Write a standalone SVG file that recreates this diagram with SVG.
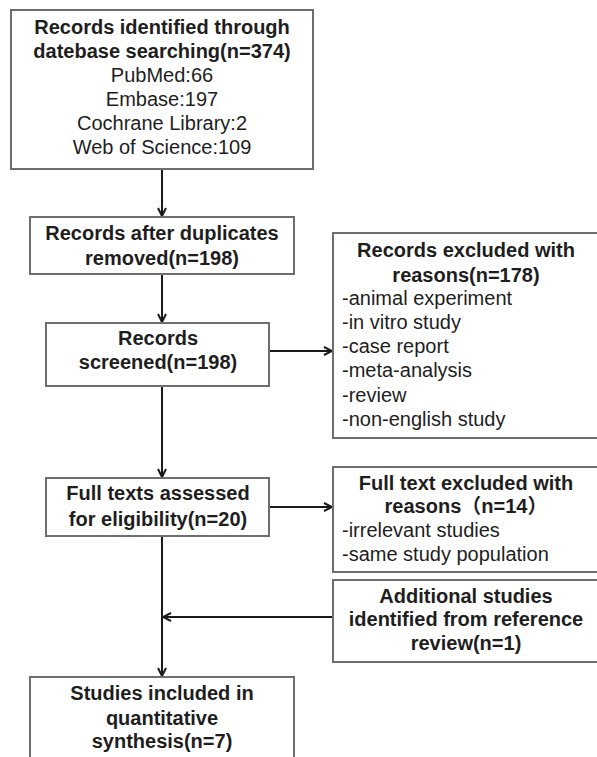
<svg xmlns="http://www.w3.org/2000/svg" width="597" height="757" viewBox="0 0 597 757">
<style>
text{font-family:"Liberation Sans","Noto Sans CJK SC",Arial,sans-serif;font-size:20px;fill:#1e1e1e}
.b{font-weight:bold}
.c{text-anchor:middle}
.box{fill:#fff;stroke:#6e6e6e;stroke-width:2}
.ln{fill:none;stroke:#1a1a1a;stroke-width:2}
</style>
<defs>
<marker id="ah" viewBox="0 0 10 10" refX="9" refY="5" markerWidth="10" markerHeight="10" markerUnits="userSpaceOnUse" orient="auto">
<path d="M1,1 L9,5 L1,9" fill="none" stroke="#1a1a1a" stroke-width="2"/>
</marker>
</defs>
<g id="connectors">
<line class="ln" x1="162" y1="169" x2="162" y2="216" marker-end="url(#ah)"/>
<line class="ln" x1="162" y1="274" x2="162" y2="322" marker-end="url(#ah)"/>
<line class="ln" x1="162" y1="386" x2="162" y2="477" marker-end="url(#ah)"/>
<line class="ln" x1="269" y1="351" x2="332" y2="351" marker-end="url(#ah)"/>
<line class="ln" x1="269" y1="507" x2="332" y2="507" marker-end="url(#ah)"/>
<line class="ln" x1="162" y1="536" x2="162" y2="676" marker-end="url(#ah)"/>
<line class="ln" x1="333" y1="617" x2="163" y2="617" marker-end="url(#ah)"/>
</g>
<g id="identified">
<rect class="box" x="11" y="10" width="302" height="159"/>
<text class="b c" x="162" y="34">Records identified through</text>
<text class="b c" x="162" y="58">datebase searching(n=374)</text>
<text class="c" x="162" y="82">PubMed:66</text>
<text class="c" x="162" y="106">Embase:197</text>
<text class="c" x="162" y="130">Cochrane Library:2</text>
<text class="c" x="162" y="154">Web of Science:109</text>
</g>
<g id="duplicates">
<rect class="box" x="30" y="217" width="264" height="57"/>
<text class="b c" x="162" y="240">Records after duplicates</text>
<text class="b c" x="162" y="265">removed(n=198)</text>
</g>
<g id="screened">
<rect class="box" x="46" y="323" width="223" height="63"/>
<text class="b c" x="158" y="345">Records</text>
<text class="b c" x="158" y="369">screened(n=198)</text>
</g>
<g id="excluded">
<rect class="box" x="333" y="233" width="270" height="205"/>
<text class="b c" x="466" y="257">Records excluded with</text>
<text class="b c" x="466" y="282">reasons(n=178)</text>
<text x="342" y="305">-animal experiment</text>
<text x="342" y="329">-in vitro study</text>
<text x="342" y="353">-case report</text>
<text x="342" y="377">-meta-analysis</text>
<text x="342" y="402">-review</text>
<text x="342" y="426">-non-english study</text>
</g>
<g id="fulltexts">
<rect class="box" x="46" y="478" width="223" height="58"/>
<text class="b c" x="158" y="500">Full texts assessed</text>
<text class="b c" x="158" y="526">for eligibility(n=20)</text>
</g>
<g id="ftexcluded">
<rect class="box" x="333" y="467" width="270" height="105"/>
<text class="b c" x="466" y="490">Full text excluded with</text>
<text class="b c" x="466" y="513">reasons（n=14）</text>
<text x="342" y="537">-irrelevant studies</text>
<text x="342" y="561">-same study population</text>
</g>
<g id="additional">
<rect class="box" x="333" y="580" width="270" height="82"/>
<text class="b c" x="466" y="603">Additional studies</text>
<text class="b c" x="466" y="626">identified from reference</text>
<text class="b c" x="466" y="650">review(n=1)</text>
</g>
<g id="included">
<rect class="box" x="30" y="677" width="264" height="90"/>
<text class="b c" x="162" y="700">Studies included in</text>
<text class="b c" x="162" y="725">quantitative</text>
<text class="b c" x="162" y="748">synthesis(n=7)</text>
</g>
</svg>
